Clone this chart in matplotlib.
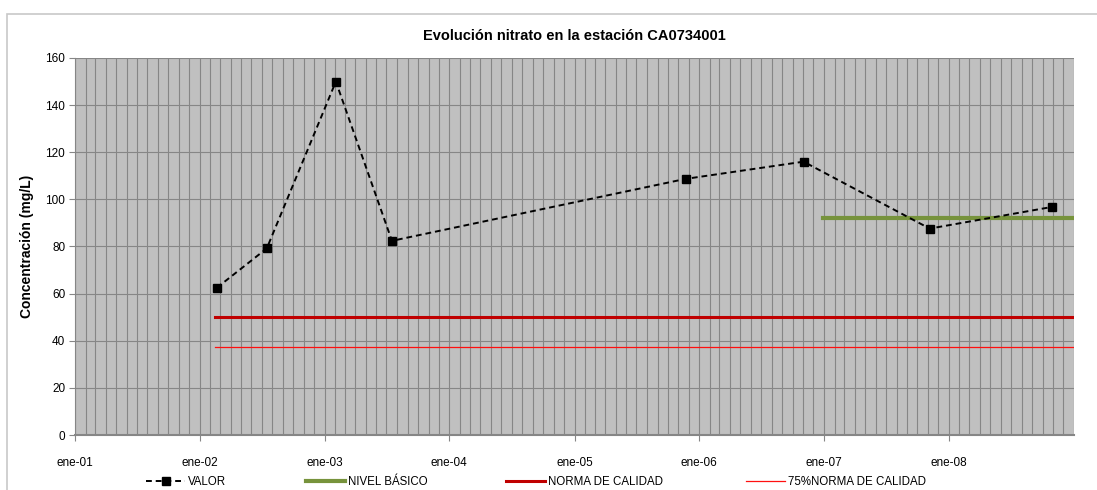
import datetime as dt

import matplotlib
matplotlib.use("Agg")
import matplotlib.pyplot as plt
import matplotlib.dates as mdates
from matplotlib.lines import Line2D
from matplotlib.patches import Rectangle

plt.rcParams["font.family"] = ["Liberation Sans", "DejaVu Sans"]

# muestras de nitrato (mg/L)
fechas = [dt.date(2002, 2, 20), dt.date(2002, 7, 16), dt.date(2003, 2, 3),
          dt.date(2003, 7, 17), dt.date(2005, 11, 22), dt.date(2006, 11, 2),
          dt.date(2007, 11, 6), dt.date(2008, 10, 29)]
valor = [62.5, 79.2, 150.0, 82.4, 108.7, 116.0, 87.6, 96.8]

# niveles de referencia
nivel_fechas = [dt.date(2006, 12, 28), dt.date(2009, 1, 1)]
nivel_basico = [92.3, 92.3]
norma_fechas = [dt.date(2002, 2, 14), dt.date(2009, 1, 1)]
norma = [50.0, 50.0]
norma75 = [37.5, 37.5]

anios = list(range(2001, 2009))
etiquetas = [f"ene-{a % 100:02d}" for a in anios]

W, H = 1097, 490
fig = plt.figure(figsize=(W / 100, H / 100), dpi=100)
fig.patches.append(Rectangle((7 / W, -0.1), 1.2, 1 - 14 / H + 0.1,
                             transform=fig.transFigure, fill=False,
                             edgecolor="#c8c8c8", lw=1.2))

ax = fig.add_axes([75 / W, 1 - 435 / H, (1074 - 75) / W, (435 - 58) / H])
ax.set_facecolor("#c0c0c0")

ax.plot(fechas, valor, color="black", ls="--", lw=1.4, dashes=(3, 2),
        marker="s", ms=5.5, zorder=5)
ax.plot(nivel_fechas, nivel_basico, color="#77933c", lw=3, zorder=4)
ax.plot(norma_fechas, norma, color="#c00000", lw=2.2, zorder=4)
ax.plot(norma_fechas, norma75, color="#ff1010", lw=0.9, zorder=4)

ax.set_xlim(dt.date(2001, 1, 1), dt.date(2009, 1, 1))
ax.set_ylim(0, 160)
ax.set_yticks(range(0, 161, 20))
ax.set_xticks([dt.date(a, 1, 1) for a in anios])
ax.set_xticklabels(etiquetas)
ax.xaxis.set_minor_locator(mdates.MonthLocator())

ax.grid(True, which="both", axis="x", color="#868686", lw=0.8)
ax.grid(True, which="major", axis="y", color="#868686", lw=0.8)
ax.set_axisbelow(True)
ax.tick_params(which="minor", length=0)
ax.tick_params(which="major", length=4, color="#868686", labelsize=8.5,
               pad=12)
ax.tick_params(axis="y", pad=3)

for s in ["top", "right"]:
    ax.spines[s].set_visible(False)
ax.spines["left"].set_color("#868686")
ax.spines["bottom"].set_color("#868686")
ax.spines["bottom"].set_linewidth(1.5)

ax.set_ylabel("Concentración (mg/L)", fontsize=10, fontweight="bold",
              labelpad=8)
fig.text(0.5 * (75 + 1074) / W, 1 - 36 / H,
         "Evolución nitrato en la estación CA0734001",
         ha="center", va="center", fontsize=10.5, fontweight="bold")

# leyenda: una entrada por posición
entradas = [
    (Line2D([], [], color="black", ls="--", lw=1.4, dashes=(3, 2),
            marker="s", ms=5.5), "VALOR", 146),
    (Line2D([], [], color="#77933c", lw=3), "NIVEL BÁSICO", 306),
    (Line2D([], [], color="#c00000", lw=2.2), "NORMA DE CALIDAD", 506),
    (Line2D([], [], color="#ff1010", lw=0.9), "75%NORMA DE CALIDAD", 746),
]
for h, lab, xp in entradas:
    leg = fig.legend(handles=[h], labels=[lab], loc="center left",
                     bbox_to_anchor=(xp / W, 1 - 482 / H), frameon=False,
                     fontsize=8.3, handlelength=3.4, handletextpad=0.2,
                     borderpad=0, borderaxespad=0)

fig.savefig("out.png", dpi=100)
